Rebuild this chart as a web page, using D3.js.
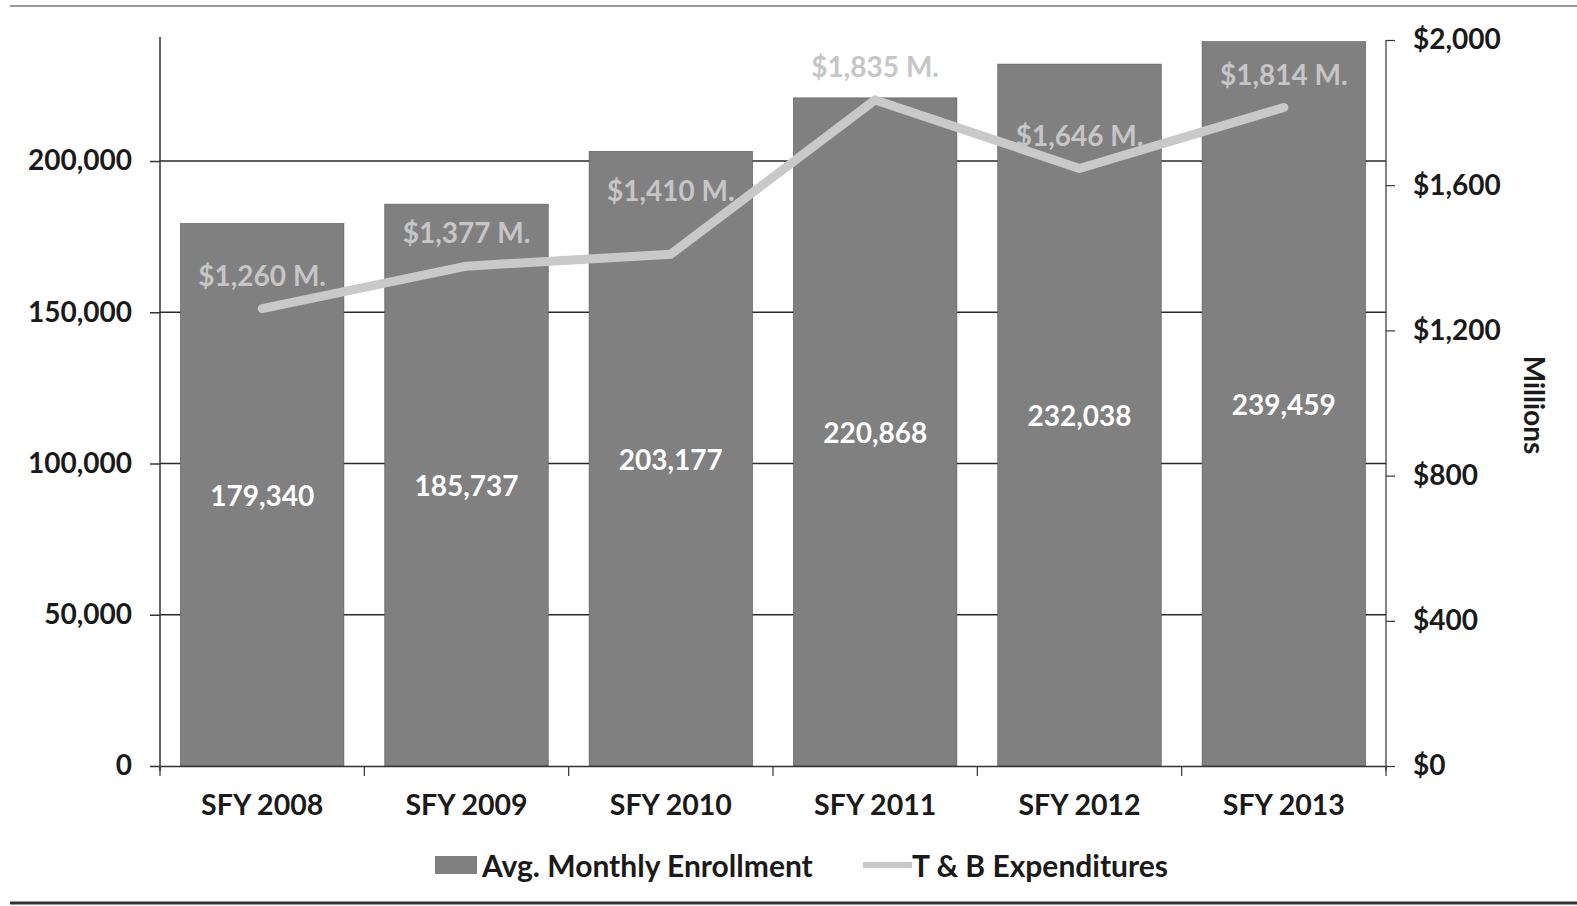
<!DOCTYPE html>
<html><head><meta charset="utf-8">
<script src="https://cdn.jsdelivr.net/npm/d3@7/dist/d3.min.js"></script>
<style>
html,body{margin:0;padding:0;background:#fff;}
text{font-family:Lato,"Open Sans",sans-serif;}
</style></head>
<body><svg id="c" width="1577" height="906"></svg>
<script>
const categories = ["SFY 2008","SFY 2009","SFY 2010","SFY 2011","SFY 2012","SFY 2013"];
const enrollment = [179340, 185737, 203177, 220868, 232038, 239459];
const expenditures = [1260, 1377, 1410, 1835, 1646, 1814];
const leftTicks = [0, 50000, 100000, 150000, 200000];
const rightTicks = [0, 400, 800, 1200, 1600, 2000];
const legendLabels = ["Avg. Monthly Enrollment", "T & B Expenditures"];

const svg = d3.select("#c");
const L = 160, R = 1386, T = 40, B = 766;

const x = d3.scaleBand().domain(categories).range([L, R]).paddingInner(0.2).paddingOuter(0.1);
const yL = d3.scaleLinear().domain([0, 240000]).range([B, T]);
const yR = d3.scaleLinear().domain([0, 2000]).range([B, T]);

// borders
svg.append("line").attr("x1",10).attr("x2",1577).attr("y1",6).attr("y2",6).attr("stroke","#777").attr("stroke-width",1.5);
svg.append("line").attr("x1",10).attr("x2",1577).attr("y1",903).attr("y2",903).attr("stroke","#333").attr("stroke-width",3);

// gridlines
svg.append("g").selectAll("line").data(leftTicks.filter(d=>d>0)).join("line")
  .attr("x1", L).attr("x2", R).attr("y1", d=>yL(d)).attr("y2", d=>yL(d))
  .attr("stroke","#2a2a2a").attr("stroke-width",1.5);

// bars
svg.append("g").selectAll("rect").data(enrollment).join("rect")
  .attr("x",(d,i)=>x(categories[i])).attr("width",x.bandwidth())
  .attr("y",d=>yL(d)).attr("height",d=>yL(0)-yL(d))
  .attr("fill","#808080").attr("stroke","#555").attr("stroke-width",0.6);

// left axis
const gL = svg.append("g").attr("transform",`translate(${L},0)`)
  .call(d3.axisLeft(yL).tickValues(leftTicks).tickSize(10).tickPadding(18).tickFormat(d3.format(",")));
gL.select(".domain").attr("d",`M0,${T-3}V${B+5}`).attr("stroke","#333").attr("stroke-width",1.5);
gL.selectAll(".tick line").attr("stroke","#333").attr("stroke-width",1.5);
gL.selectAll("text").attr("font-size",28).attr("font-weight","bold").attr("fill","#1a1a1a").attr("font-family","Lato");

// right axis
const gR = svg.append("g").attr("transform",`translate(${R},0)`)
  .call(d3.axisRight(yR).tickValues(rightTicks).tickSize(9).tickPadding(18).tickFormat(d=>"$"+d3.format(",")(d)));
gR.select(".domain").attr("d",`M0,${T}V${B+5}`).attr("stroke","#333").attr("stroke-width",1.2);
gR.selectAll(".tick line").attr("stroke","#333").attr("stroke-width",1.2);
gR.selectAll("text").attr("font-size",28).attr("font-weight","bold").attr("fill","#1a1a1a").attr("font-family","Lato");

// x axis
const gX = svg.append("g").attr("transform",`translate(0,${B})`)
  .call(d3.axisBottom(x).tickSize(0).tickPadding(29));
gX.select(".domain").attr("stroke","#333").attr("stroke-width",1.5);
gX.selectAll("text").attr("font-size",28.5).attr("font-weight","bold").attr("fill","#1a1a1a").attr("font-family","Lato");
// boundary ticks
svg.append("g").selectAll("line").data(d3.range(categories.length+1)).join("line")
  .attr("x1",i=>L+i*(R-L)/categories.length).attr("x2",i=>L+i*(R-L)/categories.length)
  .attr("y1",B).attr("y2",B+10).attr("stroke","#333").attr("stroke-width",1.2);

// line
const cx = i => x(categories[i]) + x.bandwidth()/2;
const line = d3.line().x((d,i)=>cx(i)).y(d=>yR(d));
svg.append("path").datum(expenditures).attr("d",line)
  .attr("fill","none").attr("stroke","#c9c9c9").attr("stroke-width",9)
  .attr("stroke-linecap","round").attr("stroke-linejoin","round");

// bar value labels
svg.append("g").selectAll("text").data(enrollment).join("text")
  .attr("x",(d,i)=>cx(i)).attr("y",d=>(yL(d)+yL(0))/2)
  .attr("text-anchor","middle").attr("dominant-baseline","central")
  .attr("font-size",28).attr("font-weight","bold").attr("fill","#fff")
  .text(d=>d3.format(",")(d));

// line labels
svg.append("g").selectAll("text").data(expenditures).join("text")
  .attr("x",(d,i)=>cx(i)).attr("y",(d,i)=>yR(d) - (i===2 ? 64 : 34))
  .attr("text-anchor","middle").attr("dominant-baseline","central")
  .attr("font-size",28).attr("font-weight","bold").attr("fill","#c6c6c6")
  .text(d=>"$"+d3.format(",")(d)+" M.");

// Millions
svg.append("text").attr("transform","translate(1535,405) rotate(90)")
  .attr("text-anchor","middle").attr("dominant-baseline","central")
  .attr("font-size",28).attr("font-weight","bold").attr("fill","#1a1a1a").text("Millions");

// legend
const lg = svg.append("g");
lg.append("rect").attr("x",435).attr("y",856).attr("width",42).attr("height",18).attr("fill","#808080");
lg.append("text").attr("x",482).attr("y",865).attr("dominant-baseline","central")
  .attr("font-size",30).attr("font-weight","bold").attr("fill","#1a1a1a").text(legendLabels[0]);
lg.append("line").attr("x1",863).attr("x2",912).attr("y1",865).attr("y2",865)
  .attr("stroke","#c9c9c9").attr("stroke-width",6);
lg.append("text").attr("x",912).attr("y",865).attr("dominant-baseline","central")
  .attr("font-size",30).attr("font-weight","bold").attr("fill","#1a1a1a").text(legendLabels[1]);
</script></body></html>
